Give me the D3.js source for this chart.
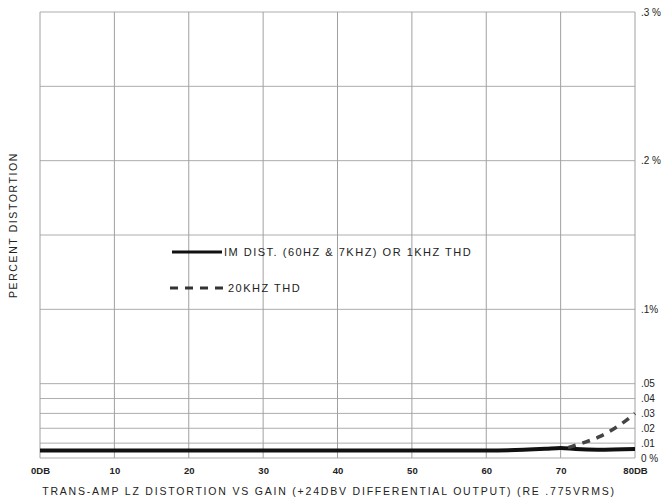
<!DOCTYPE html>
<html><head><meta charset="utf-8">
<script src="https://cdn.jsdelivr.net/npm/d3@7"></script>
<style>
body{margin:0;background:#fff;}
text{font-family:"Liberation Sans","DejaVu Sans",sans-serif;fill:#222;}
</style></head>
<body><svg id="c" width="662" height="502"></svg>
<script>
// Data
const xTicks = [0,10,20,30,40,50,60,70,80];
const xTickLabels = ["0DB","10","20","30","40","50","60","70","80DB"];
const yGrid = [0,0.01,0.02,0.03,0.04,0.05,0.1,0.15,0.2,0.25,0.3];
const yTicks = [0.3,0.2,0.1,0.05,0.04,0.03,0.02,0.01,0];
const yTickLabels = [".3 %",".2 %",".1%",".05",".04",".03",".02",".01","0 %"];
const imGain = [0,10,20,30,40,50,60,65,68,70,72,75,80];
const imDist = [0.005,0.005,0.005,0.005,0.005,0.005,0.005,0.0055,0.0062,0.0068,0.006,0.0055,0.006];
const thdGain = [71,73.5,75.3,77.6,80];
const thd20k = [0.007,0.011,0.0145,0.021,0.030];
const legendLabels = ["IM DIST. (60HZ & 7KHZ) OR 1KHZ THD","20KHZ THD"];
const title = "TRANS-AMP LZ  DISTORTION VS GAIN (+24DBV DIFFERENTIAL OUTPUT) (RE .775VRMS)";
const yTitle = "PERCENT DISTORTION";

const svg = d3.select("#c");
const L=40,R=635,T=12,B=458;
const x = d3.scaleLinear().domain([0,80]).range([L,R]);
const y = d3.scaleLinear().domain([0,0.3]).range([B,T]);

const g = svg.append("g");
g.selectAll("line.h").data(yGrid).join("line")
  .attr("x1",L).attr("x2",R).attr("y1",d=>y(d)).attr("y2",d=>y(d))
  .attr("stroke","#adadad").attr("stroke-width",1);
g.selectAll("line.v").data(xTicks).join("line")
  .attr("y1",T).attr("y2",B).attr("x1",d=>x(d)).attr("x2",d=>x(d))
  .attr("stroke","#a0a0a0").attr("stroke-width",1);

const ry = d3.axisRight(y).tickValues(yTicks).tickSize(0).tickFormat((d,i)=>yTickLabels[i]);
const ra = svg.append("g").attr("transform",`translate(${R+3},0)`).call(ry);
ra.select(".domain").remove();
ra.selectAll("text").style("font-size","10px").style("font-family","'Liberation Sans',sans-serif").attr("fill","#222");

const bx = d3.axisBottom(x).tickValues(xTicks).tickSize(0).tickFormat((d,i)=>xTickLabels[i]);
const ba = svg.append("g").attr("transform",`translate(0,${B+6})`).call(bx);
ba.select(".domain").remove();
ba.selectAll("text").style("font-size","9.5px").style("font-weight","bold").style("font-family","'Liberation Sans',sans-serif").attr("fill","#222");

const line = d3.line().x(d=>x(d[0])).y(d=>y(d[1])).curve(d3.curveMonotoneX);
svg.append("path").datum(imGain.map((v,i)=>[v,imDist[i]]))
  .attr("d",line).attr("fill","none").attr("stroke","#111").attr("stroke-width",4);
svg.append("path").datum(thdGain.map((v,i)=>[v,thd20k[i]]))
  .attr("d",line).attr("fill","none").attr("stroke","#444").attr("stroke-width",3.5).attr("stroke-dasharray","8,7");

// legend
svg.append("line").attr("x1",172).attr("x2",222).attr("y1",252).attr("y2",252).attr("stroke","#111").attr("stroke-width",3);
svg.append("text").attr("x",224).attr("y",256).text(legendLabels[0]).style("font-size","11px").style("letter-spacing","1.5px");
svg.append("line").attr("x1",170).attr("x2",226).attr("y1",288).attr("y2",288).attr("stroke","#333").attr("stroke-width",3).attr("stroke-dasharray","8,7");
svg.append("text").attr("x",228).attr("y",292).text(legendLabels[1]).style("font-size","11px").style("letter-spacing","1.5px");

svg.append("text").attr("x",329).attr("y",495).attr("text-anchor","middle").text(title)
  .style("font-size","10.5px").style("letter-spacing","1.8px");
svg.append("text").attr("transform","translate(17,225) rotate(-90)").attr("text-anchor","middle").text(yTitle)
  .style("font-size","10.5px").style("letter-spacing","1.6px");
</script></body></html>
